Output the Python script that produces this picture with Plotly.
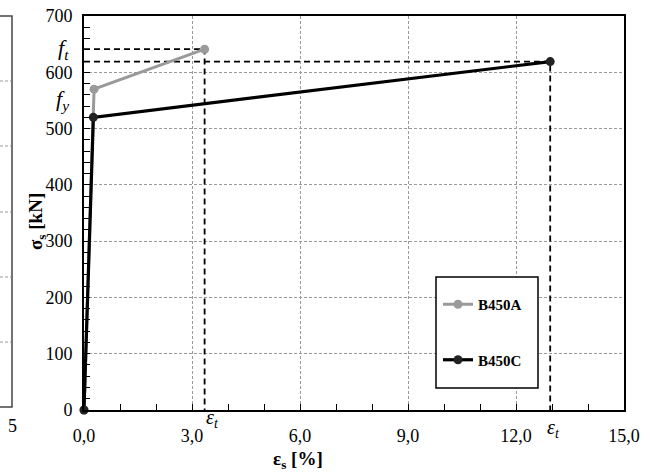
import plotly.graph_objects as go

# ---- data ----
series_names = ["B450A", "B450C"]
eps_A = [0.0, 0.28, 3.35]
sig_A = [0, 570, 641]
eps_C = [0.0, 0.26, 12.95]
sig_C = [0, 520, 619]
x_tick_vals = [0, 3, 6, 9, 12, 15]
y_tick_vals = [0, 100, 200, 300, 400, 500, 600, 700]
fy_label_value = 551

SERIF = "Liberation Serif"
W, H = 652, 472
L, R, T, B = 84, 28, 16, 62
PW, PH = W - L - R, H - T - B

def px(xp):
    return (xp - L) / PW

def py(yp):
    return (H - B - yp) / PH

fig = go.Figure()

# reference dashed lines (ultimate strength / strain)
for ex, sy in [(eps_A[-1], sig_A[-1]), (eps_C[-1], sig_C[-1])]:
    fig.add_trace(go.Scatter(x=[0, ex, ex], y=[sy, sy, 0], mode="lines",
                             line=dict(color="black", width=1.8, dash="6px,4px"),
                             showlegend=False, hoverinfo="skip", cliponaxis=False))

fig.add_trace(go.Scatter(x=eps_A, y=sig_A, name=series_names[0], mode="lines+markers",
                         line=dict(color="#9a9a9a", width=3),
                         marker=dict(color="#9a9a9a", size=9),
                         legendgroup="a", cliponaxis=False))
fig.add_trace(go.Scatter(x=eps_C, y=sig_C, name=series_names[1], mode="lines+markers",
                         line=dict(color="black", width=3.2),
                         marker=dict(color="#222", size=9),
                         legendgroup="c", cliponaxis=False))

axis_common = dict(showline=True, linecolor="black", linewidth=2, mirror=True,
                   showgrid=True, gridcolor="#9a9a9a", gridwidth=1, griddash="3px,2px",
                   zeroline=False, ticks="inside", ticklen=5, tickcolor="black",
                   automargin=False,
                   tickfont=dict(family=SERIF, size=18, color="black"))

fig.update_xaxes(range=[0, 15], tickvals=x_tick_vals, tickformat=".1f", ticklabelstandoff=8,
                 minor=dict(dtick=1, ticks="inside", ticklen=6, tickcolor="black", showgrid=False),
                 **axis_common)
fig.update_yaxes(range=[0, 700], tickvals=y_tick_vals, ticklabelstandoff=6,
                 minor=dict(dtick=20, ticks="inside", ticklen=6, tickcolor="black", showgrid=False),
                 **axis_common)

shapes = []
# legend box
shapes.append(dict(type="rect", xref="paper", yref="paper", x0=px(436), x1=px(538),
                   y0=py(388), y1=py(277), line=dict(color="black", width=1.5),
                   fillcolor="white", layer="above"))
# partial neighbouring panel on the left
shapes.append(dict(type="path", xref="paper", yref="paper",
                   path=f"M {px(0)},{py(16)} L {px(12)},{py(16)} L {px(12)},{py(407)} L {px(0)},{py(407)}",
                   line=dict(color="#444", width=1.5)))
for yy in [81, 146, 212, 277, 342]:
    shapes.append(dict(type="line", xref="paper", yref="paper", x0=px(0), x1=px(11),
                       y0=py(yy), y1=py(yy), line=dict(color="#9a9a9a", width=1, dash="3px,2px")))

def ann(**kw):
    d = dict(showarrow=False, xanchor="center", yanchor="middle")
    d.update(kw)
    return d

annotations = [
    ann(text="5", x=px(12), y=py(426), xref="paper", yref="paper",
        font=dict(family=SERIF, size=18, color="black")),
    ann(text="<b>σ<sub>s</sub> [kN]</b>", x=px(37), y=py(222), xref="paper", yref="paper",
        textangle=-90, font=dict(family=SERIF, size=19, color="black")),
    ann(text="<b>ε<sub>s</sub> [%]</b>", x=px(298), y=py(460), xref="paper", yref="paper",
        font=dict(family=SERIF, size=19, color="black")),
    ann(text="<i>f<sub>t</sub></i>", x=0, y=sig_A[-1], xref="paper", yref="y",
        xanchor="right", xshift=-13, font=dict(family=SERIF, size=22, color="black")),
    ann(text="<i>f<sub>y</sub></i>", x=0, y=fy_label_value, xref="paper", yref="y",
        xanchor="right", xshift=-13, font=dict(family=SERIF, size=22, color="black")),
    ann(text="<i>ε<sub>t</sub></i>", x=eps_A[-1], y=py(418), xref="x", yref="paper",
        xshift=8, font=dict(family=SERIF, size=20, color="black")),
    ann(text="<i>ε<sub>t</sub></i>", x=eps_C[-1], y=py(428), xref="x", yref="paper",
        xshift=3, font=dict(family=SERIF, size=20, color="black")),
]

fig.update_layout(
    width=W, height=H,
    margin=dict(l=L, r=R, t=T, b=B),
    paper_bgcolor="white", plot_bgcolor="white",
    font=dict(family=SERIF, size=18, color="black"),
    separators=", ",
    showlegend=True,
    legend=dict(x=px(438), y=py(288), xanchor="left", yanchor="top",
                bgcolor="rgba(0,0,0,0)", borderwidth=0, tracegroupgap=33,
                traceorder="grouped", itemwidth=30,
                font=dict(family=SERIF, size=15, color="black", weight="bold")),
    shapes=shapes,
    annotations=annotations,
)

fig.write_html("out.html", config={"displayModeBar": False},
               post_script="document.body.style.margin='0';document.body.style.overflow='hidden';")
